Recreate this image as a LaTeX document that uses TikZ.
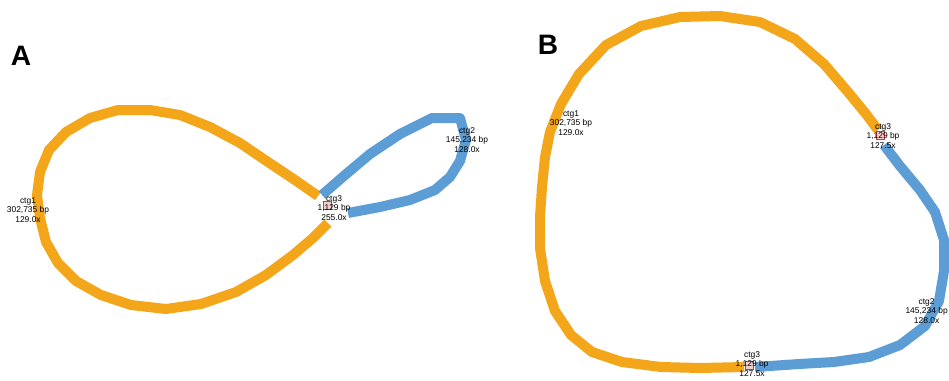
\documentclass[tikz,border=0pt]{standalone}
\usepackage{fontspec}
\setmainfont{Liberation Sans}
\definecolor{ctgorange}{RGB}{243,166,26}
\definecolor{ctgblue}{RGB}{93,157,213}
\definecolor{ctgred}{RGB}{200,60,60}
\begin{document}
\begin{tikzpicture}[x=0.25mm,y=-0.25mm,
  seg/.style={line width=2.5mm,line join=round},
  oseg/.style={seg,draw=ctgorange},
  bseg/.style={seg,draw=ctgblue},
  lbl/.style={font=\fontsize{6pt}{6.8pt}\selectfont,align=center,inner sep=0pt},
  panel/.style={font=\bfseries\fontsize{20pt}{22pt}\selectfont,inner sep=0pt},
  jn/.style={draw=ctgred,fill=ctgred!25,minimum size=2mm,inner sep=0pt,line width=0.3pt}]
\useasboundingbox (0,0) rectangle (949,380);
\fill[white] (0,0) rectangle (949,380);
% ---------------- Panel A ----------------
\node[panel] (pa) at (21,56) {A};
\coordinate (a3) at (327,205);
\draw[oseg] (318,196) -- (295,180) -- (268,162) -- (240,143) -- (210,127) -- (180,115) -- (150,110) -- (118,110) -- (90,118) -- (66,132) -- (49,150) -- (40,172) -- (37,195) -- (40,218) -- (46,242) -- (58,263) -- (76,281) -- (101,295) -- (131,305) -- (166,309) -- (201,304) -- (236,292) -- (266,275) -- (293,255) -- (313,238) -- (328,223);
\draw[bseg] (322,195) -- (345,175) -- (370,154) -- (400,134) -- (432,118) -- (460,118) -- (466,140) -- (460,161) -- (450,177) -- (435,190) -- (410,200) -- (380,207) -- (348,213);
\node[jn] (j1) at (a3) {};
\node[lbl] (ctg1a) at (28,210) {ctg1\\302,735 bp\\129.0x};
\node[lbl] (ctg2a) at (467,140) {ctg2\\145,234 bp\\128.0x};
\node[lbl] (ctg3a) at (334,208) {ctg3\\1,129 bp\\255.0x};
% ---------------- Panel B ----------------
\node[panel] (pb) at (548,45) {B};
\coordinate (b3t) at (880,135);
\coordinate (b3b) at (749,365);
\draw[oseg] (878,130) -- (866,114) -- (848,92) -- (824,64) -- (795,39) -- (760,22) -- (720,16) -- (680,17) -- (641,26) -- (606,45) -- (579,74) -- (561,104) -- (550,132) -- (545,157) -- (542,187) -- (540,217) -- (540,248) -- (545,281) -- (555,311) -- (571,335) -- (592,352) -- (622,362) -- (661,367) -- (700,368) -- (744,367);
\draw[bseg] (884,145) -- (900,166) -- (920,190) -- (935,212) -- (944,240) -- (944,271) -- (939,301) -- (925,326) -- (900,345) -- (869,357) -- (834,362) -- (799,364) -- (755,367);
\node[jn] (j2) at (b3t) {};
\node[jn] (j3) at (b3b) {};
\node[lbl] (ctg1b) at (571,123) {ctg1\\302,735 bp\\129.0x};
\node[lbl] (ctg3bt) at (883,136) {ctg3\\1,129 bp\\127.5x};
\node[lbl,anchor=east] (ctg2b) at (948,311) {ctg2\\145,234 bp\\128.0x};
\node[lbl] (ctg3bb) at (752,364) {ctg3\\1,129 bp\\127.5x};
\end{tikzpicture}
\end{document}
